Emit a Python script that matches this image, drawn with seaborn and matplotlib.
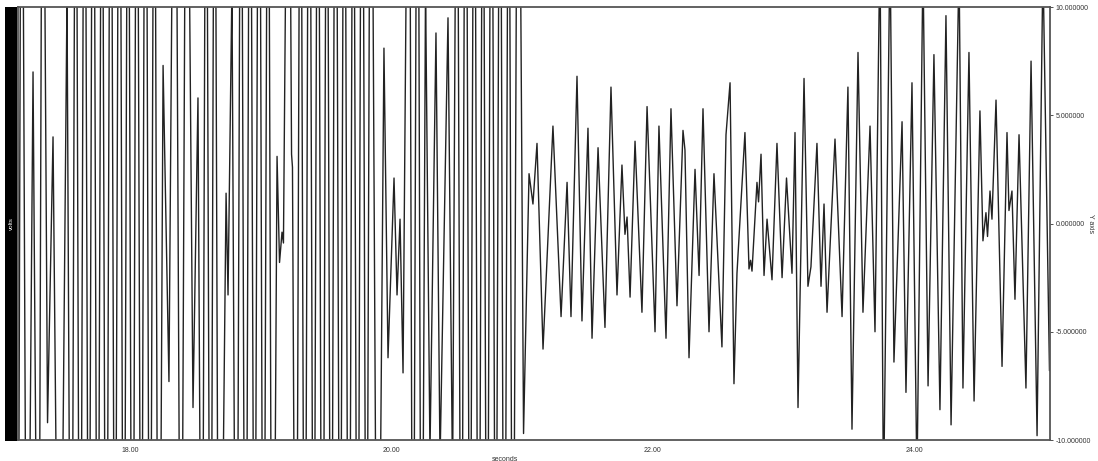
import matplotlib
matplotlib.use("Agg")
import matplotlib.pyplot as plt
import matplotlib.patches as mpatches
import numpy as np
import pandas as pd
import seaborn as sns

# Recorded waveform, listed as successive turning points (seconds, volts).
# First part: large, over-range swings with a few smaller excursions.
burst_t = [
    17.143, 17.170, 17.212, 17.258, 17.300, 17.331, 17.369, 17.411, 17.461, 17.518,
    17.551, 17.585, 17.618, 17.652, 17.685, 17.718, 17.752, 17.785, 17.818, 17.852,
    17.885, 17.919, 17.952, 17.985, 18.019, 18.052, 18.086, 18.119, 18.152, 18.186,
    18.219, 18.253, 18.298, 18.344, 18.390, 18.432, 18.482, 18.520, 18.551, 18.582,
    18.616, 18.647, 18.681, 18.735, 18.750, 18.780, 18.815, 18.849, 18.884, 18.918,
    18.953, 18.987, 19.021, 19.056, 19.090, 19.125, 19.144, 19.163, 19.174, 19.213,
    19.236, 19.243, 19.270, 19.304, 19.337, 19.371, 19.405, 19.438, 19.472, 19.506,
    19.539, 19.573, 19.607, 19.640, 19.674, 19.708, 19.741, 19.775, 19.809, 19.842,
    19.894, 19.943, 19.974, 20.020, 20.043, 20.066, 20.089, 20.135, 20.165, 20.200,
    20.230, 20.261, 20.295, 20.341, 20.372, 20.433, 20.468, 20.502, 20.535, 20.568,
    20.601, 20.634, 20.667, 20.700, 20.732, 20.765, 20.798, 20.831, 20.864, 20.897,
    20.929, 20.969, 21.011,
]
burst_v = [
    -26, 30, -28, 7.0, -28, 28, -9.2, 4.0, -28, 10.6,
    -30, 28, -32, 30, -28, 32, -30, 28, -32, 30,
    -28, 32, -30, 28, -32, 30, -28, 32, -30, 28,
    -32, 7.3, -7.3, 30, -28, 28, -8.5, 5.8, -28, 28,
    -30, 28, -30, 1.4, -3.3, 11, -30, 28, -32, 30,
    -28, 32, -30, 28, -32, 3.1, -1.8, -0.4, -0.9, 28,
    3.2, 2.6, -30, 28, -30, 32, -28, 30, -32, 28,
    -30, 32, -28, 30, -32, 28, -30, 32, -28, 30,
    -28, 8.1, -6.2, 2.1, -3.3, 0.2, -6.9, 28, -28, 30,
    -28, 11, -10.6, 8.8, -11, 9.5, -12, 26, -28, 30,
    -26, 28, -30, 26, -28, 30, -26, 28, -30, 26,
    -28, 30, -9.7,
]

# Second part: oscillation mostly inside the +/-10 V range.
settle_t = [
    21.053, 21.083, 21.114, 21.160, 21.236, 21.298, 21.344, 21.374, 21.420, 21.458,
    21.504, 21.535, 21.581, 21.634, 21.680, 21.726, 21.764, 21.787, 21.803, 21.826,
    21.864, 21.917, 21.956, 22.017, 22.047, 22.101, 22.139, 22.185, 22.231, 22.246,
    22.277, 22.323, 22.354, 22.384, 22.430, 22.468, 22.529, 22.560, 22.591, 22.621,
    22.644, 22.705, 22.736, 22.748, 22.759, 22.797, 22.809, 22.828, 22.851, 22.874,
    22.912, 22.950, 22.989, 23.023, 23.065, 23.088, 23.111, 23.157, 23.187, 23.210,
    23.256, 23.287, 23.310, 23.333, 23.394, 23.448, 23.493, 23.524, 23.570, 23.608,
    23.662, 23.700, 23.738, 23.765, 23.815, 23.845, 23.907, 23.937, 23.983, 24.021,
    24.067, 24.106, 24.151, 24.197, 24.243, 24.282, 24.343, 24.373, 24.419, 24.458,
    24.503, 24.526, 24.549, 24.561, 24.580, 24.595, 24.626, 24.672, 24.710, 24.725,
    24.748, 24.771, 24.802, 24.855, 24.894, 24.940, 24.985, 25.035,
]
settle_v = [
    2.3, 0.9, 3.7, -5.8, 4.5, -4.3, 1.9, -4.3, 6.8, -4.5,
    4.4, -5.3, 3.5, -4.8, 6.3, -3.3, 2.7, -0.5, 0.3, -3.4,
    3.8, -4.1, 5.4, -5.0, 4.5, -5.3, 5.3, -3.8, 4.3, 3.4,
    -6.2, 2.5, -2.4, 5.3, -5.0, 2.3, -5.7, 4.1, 6.5, -7.4,
    -2.3, 4.2, -2.1, -1.7, -2.2, 1.9, 1.0, 3.2, -2.4, 0.2,
    -2.6, 3.7, -2.5, 2.1, -2.3, 4.2, -8.5, 6.7, -2.9, -2.0,
    3.7, -2.9, 0.9, -4.1, 3.9, -4.3, 6.3, -9.5, 7.9, -4.1,
    4.5, -5.0, 13, -13, 13, -6.4, 4.7, -7.8, 6.5, -12,
    12, -7.5, 7.8, -8.6, 9.6, -9.3, 12, -7.6, 7.9, -8.2,
    5.2, -0.8, 0.5, -0.6, 1.5, 0.2, 5.7, -6.6, 4.2, 0.6,
    1.5, -3.5, 4.1, -7.6, 7.5, -9.8, 12, -6.8,
]

x_range = (17.143, 25.039)
y_range = (-10.0, 10.0)
x_ticks = [18.0, 20.0, 22.0, 24.0]
y_ticks = [10.0, 5.0, 0.0, -5.0, -10.0]
x_title = "seconds"
y_title = "Y axis"
channel_name = "volts"

signal = pd.DataFrame({
    "seconds": burst_t + settle_t,
    "volts": burst_v + settle_v,
})

sns.set_style("white")
plt.rcParams["font.family"] = ["Liberation Sans", "DejaVu Sans"]

W, H = 1098, 461
fig = plt.figure(figsize=(W / 100, H / 100), dpi=100)
ax = fig.add_axes([18 / W, 1 - 440 / H, 1032 / W, 433 / H])

sns.lineplot(data=signal, x="seconds", y="volts", ax=ax, sort=False,
             estimator=None, color="#222222", linewidth=1.0)

ax.set_xlim(*x_range)
ax.set_ylim(*y_range)

ax.set_xticks(x_ticks)
ax.set_xticklabels([f"{v:.2f}" for v in x_ticks])
ax.set_yticks(y_ticks)
ax.set_yticklabels([f"{v:.6f}" for v in y_ticks])
ax.yaxis.tick_right()
ax.tick_params(axis="both", labelsize=5, length=2, width=0.6,
               colors="#333333", pad=2)
ax.tick_params(axis="x", pad=3)

ax.set_xlabel(x_title, fontsize=5, color="#333333")
ax.xaxis.set_label_coords(0.472, -0.036)
ax.set_ylabel(y_title, fontsize=5, color="#333333", rotation=270,
              va="center")
ax.yaxis.set_label_position("right")
ax.yaxis.set_label_coords(1.043, 0.5)

for side in ("left", "right", "top", "bottom"):
    ax.spines[side].set_visible(True)
    ax.spines[side].set_color("#555555")
    ax.spines[side].set_linewidth(1.3)

# Channel strip on the left edge
strip = mpatches.Rectangle((5 / W, 1 - 441 / H), 12 / W, 434 / H,
                           transform=fig.transFigure, facecolor="black",
                           edgecolor="none")
fig.patches.append(strip)
fig.text(11 / W, 1 - 224 / H, channel_name, color="white", fontsize=4.5,
         rotation=90, ha="center", va="center")

fig.savefig("out.png", dpi=100, facecolor="white")
